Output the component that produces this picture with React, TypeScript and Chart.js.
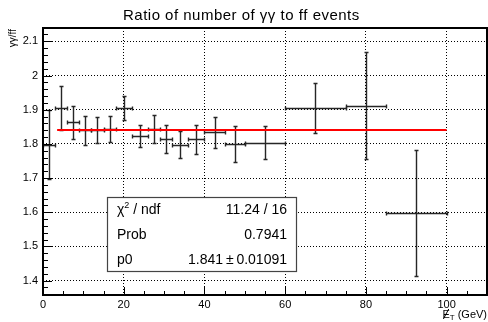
import React, { useEffect, useRef } from 'react';
import { Chart, registerables } from 'chart.js';

Chart.register(...registerables);

// ---- data ----
const binCenters = [1.5, 4.5, 7.5, 10.5, 13.5, 16.5, 20, 24, 27.5, 30.5, 34, 38, 42.5, 47.5, 55, 67.5, 80, 92.5];
const binHalfWidths = [1.5, 1.5, 1.5, 1.5, 1.5, 1.5, 2, 2, 1.5, 1.5, 2, 2, 2.5, 2.5, 5, 7.5, 5, 7.5];
const ratioValues = [1.798, 1.905, 1.863, 1.840, 1.841, 1.845, 1.905, 1.823, 1.844, 1.815, 1.798, 1.813, 1.834, 1.799, 1.803, 1.905, 1.912, 1.598];
const ratioErrors = [0.100, 0.064, 0.048, 0.042, 0.039, 0.038, 0.034, 0.033, 0.040, 0.041, 0.039, 0.042, 0.045, 0.052, 0.048, 0.072, 0.157, 0.184];
const fitValue = 1.841;
const fitRange = [3.5, 100];
const xRange = [0, 110];
const yRange = [1.358, 2.139];
const xTickValues = [0, 20, 40, 60, 80, 100];
const yTickValues = [1.4, 1.5, 1.6, 1.7, 1.8, 1.9, 2.0, 2.1];
const xMinorStep = 5;
const yMinorStep = 0.02;
const titleText = 'Ratio of number of \u03b3\u03b3 to ff events';
const yAxisTitle = '\u03b3\u03b3/ff';
const statsLabels = ['\u03c7', 'Prob', 'p0'];
const statsValues = ['11.24 / 16', '0.7941', '1.841\u2009\u00b1\u20090.01091'];

const FONT = "'Liberation Sans', Arial, Helvetica, sans-serif";

const rootPlugin = {
  id: 'rootStyle',
  beforeDatasetsDraw(chart: any) {
    const { ctx, chartArea } = chart;
    const xs = chart.scales.x;
    const ys = chart.scales.y;
    ctx.save();
    ctx.beginPath();
    ctx.rect(chartArea.left, chartArea.top, chartArea.right - chartArea.left, chartArea.bottom - chartArea.top);
    ctx.clip();
    ctx.strokeStyle = '#262626';
    ctx.lineWidth = 1.4;
    const cap = 2;
    for (let i = 0; i < binCenters.length; i++) {
      const cx = Math.round(xs.getPixelForValue(binCenters[i])) + 0.5;
      const cy = Math.round(ys.getPixelForValue(ratioValues[i])) + 0.5;
      const xl = Math.round(xs.getPixelForValue(binCenters[i] - binHalfWidths[i])) + 0.5;
      const xr = Math.round(xs.getPixelForValue(binCenters[i] + binHalfWidths[i])) + 0.5;
      const yt = Math.round(ys.getPixelForValue(ratioValues[i] + ratioErrors[i])) + 0.5;
      const yb = Math.round(ys.getPixelForValue(ratioValues[i] - ratioErrors[i])) + 0.5;
      ctx.beginPath();
      ctx.moveTo(xl, cy); ctx.lineTo(xr, cy);
      ctx.moveTo(cx, yt); ctx.lineTo(cx, yb);
      ctx.moveTo(xl, cy - cap); ctx.lineTo(xl, cy + cap);
      ctx.moveTo(xr, cy - cap); ctx.lineTo(xr, cy + cap);
      ctx.moveTo(cx - cap, yt); ctx.lineTo(cx + cap, yt);
      ctx.moveTo(cx - cap, yb); ctx.lineTo(cx + cap, yb);
      ctx.stroke();
    }
    ctx.restore();
  },
  afterDraw(chart: any) {
    const { ctx, chartArea } = chart;
    const xs = chart.scales.x;
    const ys = chart.scales.y;
    const { left, right, top, bottom } = chartArea;
    ctx.save();
    // inner ticks
    ctx.strokeStyle = '#000';
    ctx.lineWidth = 1;
    ctx.beginPath();
    const yk0 = Math.ceil(yRange[0] / yMinorStep - 1e-6);
    const yk1 = Math.floor(yRange[1] / yMinorStep + 1e-6);
    for (let k = yk0; k <= yk1; k++) {
      const v = k * yMinorStep;
      const isMajor = yTickValues.some((t) => Math.abs(t - v) < 1e-6);
      const py = Math.round(ys.getPixelForValue(v)) + 0.5;
      ctx.moveTo(left, py);
      ctx.lineTo(left + (isMajor ? 9 : 5), py);
    }
    const xk0 = Math.ceil(xRange[0] / xMinorStep);
    const xk1 = Math.floor(xRange[1] / xMinorStep);
    for (let k = xk0; k <= xk1; k++) {
      const v = k * xMinorStep;
      const isMajor = xTickValues.includes(v);
      const px = Math.round(xs.getPixelForValue(v)) + 0.5;
      ctx.moveTo(px, bottom);
      ctx.lineTo(px, bottom - (isMajor ? 8 : 4));
    }
    ctx.stroke();
    // frame
    ctx.lineWidth = 2;
    ctx.strokeRect(left, top, right - left, bottom - top);

    // title, stretched slightly to the reference's width
    ctx.fillStyle = '#000';
    ctx.font = `15px ${FONT}`;
    ctx.textAlign = 'left';
    ctx.textBaseline = 'alphabetic';
    const targetW = 236;
    const natW = ctx.measureText(titleText).width;
    const extra = Math.max(0, (targetW - natW) / (titleText.length - 1));
    const totalW = natW + extra * (titleText.length - 1);
    let tx = 241 - totalW / 2;
    for (const ch of titleText) {
      ctx.fillText(ch, tx, 20);
      tx += ctx.measureText(ch).width + extra;
    }

    // y axis title (rotated, right aligned at top)
    ctx.save();
    ctx.translate(13, 29);
    ctx.rotate(-Math.PI / 2);
    ctx.font = `10px ${FONT}`;
    ctx.textAlign = 'right';
    ctx.textBaseline = 'middle';
    ctx.fillText(yAxisTitle, 0, 0);
    ctx.restore();

    // x axis title: E-slash_T (GeV)
    ctx.font = `11px ${FONT}`;
    ctx.textAlign = 'left';
    ctx.textBaseline = 'alphabetic';
    const restTxt = ' (GeV)';
    const eW = ctx.measureText('E').width;
    const restW = ctx.measureText(restTxt).width;
    ctx.font = `8px ${FONT}`;
    const tW = ctx.measureText('T').width;
    const xEnd = 487;
    const baseY = 318;
    const x0 = xEnd - restW - tW - eW;
    ctx.font = `11px ${FONT}`;
    ctx.fillText('E', x0, baseY);
    ctx.lineWidth = 1;
    ctx.beginPath();
    ctx.moveTo(x0 + 1, baseY + 1);
    ctx.lineTo(x0 + eW - 1, baseY - 9);
    ctx.stroke();
    ctx.font = `8px ${FONT}`;
    ctx.fillText('T', x0 + eW, baseY + 2);
    ctx.font = `11px ${FONT}`;
    ctx.fillText(restTxt, x0 + eW + tW, baseY);

    // stats box
    const bx = 107, by = 197, bw = 189, bh = 74;
    ctx.fillStyle = '#fff';
    ctx.fillRect(bx, by, bw, bh);
    ctx.strokeStyle = '#444';
    ctx.lineWidth = 1.2;
    ctx.strokeRect(bx + 0.5, by + 0.5, bw, bh);
    ctx.fillStyle = '#000';
    ctx.font = `14px ${FONT}`;
    ctx.textBaseline = 'middle';
    const rows = [210, 235, 260];
    for (let i = 0; i < rows.length; i++) {
      ctx.textAlign = 'left';
      ctx.font = `14px ${FONT}`;
      if (i === 0) {
        ctx.fillText(statsLabels[0], 117, rows[i]);
        const chiW = ctx.measureText(statsLabels[0]).width;
        ctx.font = `9px ${FONT}`;
        ctx.fillText('2', 117 + chiW, rows[i] - 4);
        const sW = ctx.measureText('2').width;
        ctx.font = `14px ${FONT}`;
        ctx.fillText(' / ndf', 117 + chiW + sW, rows[i]);
      } else {
        ctx.fillText(statsLabels[i], 117, rows[i]);
      }
      ctx.textAlign = 'right';
      ctx.fillText(statsValues[i], 287, rows[i]);
    }
    ctx.restore();
  },
};

export default function App() {
  const canvasRef = useRef<HTMLCanvasElement | null>(null);
  useEffect(() => {
    if (!canvasRef.current) return;
    const chart = new Chart(canvasRef.current, {
      type: 'scatter',
      data: {
        datasets: [
          {
            label: 'ratio',
            data: binCenters.map((x, i) => ({ x, y: ratioValues[i] })),
            pointRadius: 0,
            showLine: false,
          },
          {
            label: 'fit',
            data: [
              { x: fitRange[0], y: fitValue },
              { x: fitRange[1], y: fitValue },
            ],
            showLine: true,
            borderColor: '#ff0000',
            borderWidth: 2,
            pointRadius: 0,
          },
        ],
      },
      options: {
        responsive: false,
        animation: false,
        devicePixelRatio: 1,
        layout: { padding: { top: 28, right: 1, left: 0, bottom: 0 } },
        plugins: { legend: { display: false }, tooltip: { enabled: false }, title: { display: false } },
        scales: {
          x: {
            type: 'linear',
            min: xRange[0],
            max: xRange[1],
            afterBuildTicks: (axis: any) => {
              axis.ticks = xTickValues.map((v) => ({ value: v }));
            },
            afterFit: (scale: any) => {
              scale.height = 27;
            },
            grid: { color: '#000', lineWidth: 1, drawTicks: false },
            border: { display: false, dash: [1, 2] },
            ticks: {
              padding: 3,
              color: '#000',
              font: { family: FONT, size: 11 },
              callback: (v: any) => String(+Number(v).toFixed(2)),
            },
          },
          y: {
            type: 'linear',
            min: yRange[0],
            max: yRange[1],
            afterBuildTicks: (axis: any) => {
              axis.ticks = yTickValues.map((v) => ({ value: v }));
            },
            afterFit: (scale: any) => {
              scale.width = 43;
            },
            grid: { color: '#000', lineWidth: 1, drawTicks: false },
            border: { display: false, dash: [1, 2] },
            ticks: {
              padding: 5,
              color: '#000',
              font: { family: FONT, size: 11 },
              callback: (v: any) => String(+Number(v).toFixed(2)),
            },
          },
        },
      },
      plugins: [rootPlugin],
    });
    return () => chart.destroy();
  }, []);
  return (
    <div style={{ position: 'fixed', left: 0, top: 0, width: 488, height: 322, background: '#fff' }}>
      <canvas ref={canvasRef} width={488} height={322} />
    </div>
  );
}
